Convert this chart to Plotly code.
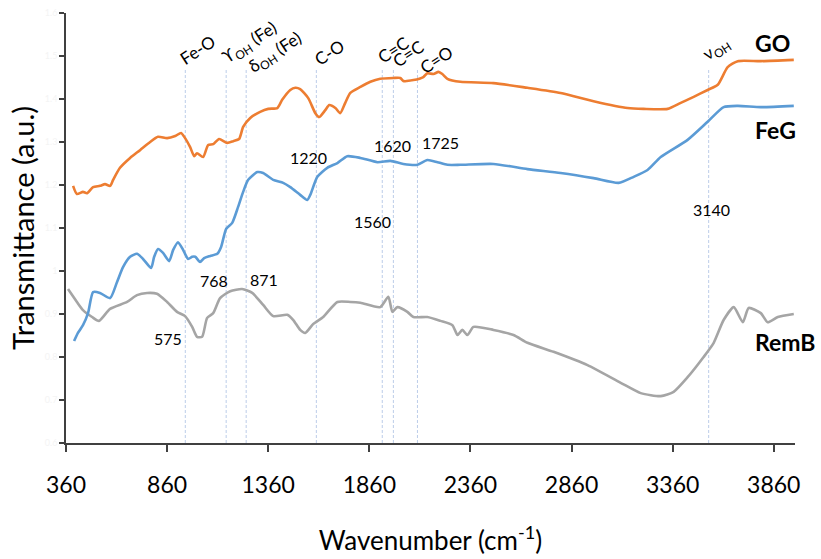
import plotly.graph_objects as go

# ---- data ----
go_wn = [395, 414, 444, 464, 494, 528, 553, 578, 593, 627, 677, 726, 776, 815, 860, 900, 929, 949, 974, 994,
         1008, 1038, 1063, 1088, 1117, 1157, 1187, 1216, 1236, 1271, 1320, 1360, 1405, 1429, 1469, 1494, 1518,
         1558, 1593, 1612, 1642, 1662, 1692, 1716, 1741, 1766, 1816, 1865, 1914, 1979, 2013, 2028, 2078, 2127,
         2147, 2177, 2202, 2221, 2246, 2310, 2474, 2642, 2806, 2969, 3137, 3216, 3335, 3400, 3464, 3533, 3583,
         3632, 3682, 3796, 3959]
go_t = [1.198, 1.179, 1.184, 1.181, 1.195, 1.198, 1.202, 1.198, 1.212, 1.240, 1.263, 1.281, 1.300, 1.312, 1.309,
        1.314, 1.321, 1.309, 1.288, 1.267, 1.274, 1.265, 1.293, 1.295, 1.307, 1.298, 1.302, 1.307, 1.335, 1.356,
        1.370, 1.377, 1.379, 1.398, 1.421, 1.426, 1.423, 1.402, 1.367, 1.358, 1.374, 1.386, 1.379, 1.367, 1.391,
        1.414, 1.428, 1.440, 1.447, 1.449, 1.449, 1.442, 1.444, 1.451, 1.460, 1.458, 1.463, 1.458, 1.447, 1.440,
        1.437, 1.426, 1.414, 1.395, 1.379, 1.377, 1.377, 1.391, 1.405, 1.421, 1.433, 1.474, 1.488, 1.488, 1.491]

feg_wn = [400, 419, 444, 469, 494, 528, 578, 612, 642, 677, 711, 741, 781, 796, 815, 840, 870, 890, 914, 939,
          964, 984, 999, 1023, 1043, 1073, 1108, 1127, 1152, 1182, 1211, 1236, 1261, 1306, 1335, 1385, 1434,
          1469, 1518, 1553, 1568, 1603, 1652, 1702, 1751, 1816, 1900, 1964, 2028, 2098, 2147, 2197, 2246, 2310,
          2474, 2642, 2806, 2969, 3093, 3167, 3236, 3301, 3434, 3533, 3612, 3682, 3796, 3959]
feg_t = [0.837, 0.856, 0.874, 0.902, 0.951, 0.949, 0.937, 0.974, 1.009, 1.033, 1.040, 1.028, 1.007, 1.033, 1.051,
         1.042, 1.023, 1.049, 1.067, 1.049, 1.028, 1.033, 1.033, 1.021, 1.030, 1.035, 1.040, 1.056, 1.098, 1.112,
         1.149, 1.184, 1.212, 1.230, 1.228, 1.212, 1.205, 1.195, 1.177, 1.165, 1.177, 1.219, 1.240, 1.251, 1.267,
         1.263, 1.253, 1.256, 1.249, 1.247, 1.258, 1.253, 1.247, 1.247, 1.249, 1.237, 1.228, 1.216, 1.205, 1.219,
         1.235, 1.265, 1.305, 1.347, 1.381, 1.384, 1.381, 1.384]

remb_wn = [370, 414, 444, 489, 523, 578, 662, 711, 761, 810, 860, 909, 949, 984, 1008, 1033, 1058, 1088, 1122,
           1172, 1231, 1281, 1335, 1385, 1454, 1484, 1518, 1543, 1583, 1632, 1702, 1766, 1816, 1914, 1954, 1974,
           1999, 2048, 2078, 2147, 2212, 2271, 2296, 2320, 2345, 2375, 2474, 2573, 2642, 2771, 2939, 3103, 3202,
           3301, 3365, 3434, 3513, 3563, 3612, 3662, 3707, 3736, 3796, 3830, 3880, 3959]
remb_t = [0.958, 0.928, 0.909, 0.893, 0.884, 0.912, 0.928, 0.944, 0.949, 0.947, 0.928, 0.905, 0.895, 0.870, 0.847,
          0.847, 0.891, 0.902, 0.937, 0.953, 0.958, 0.949, 0.921, 0.895, 0.898, 0.886, 0.863, 0.856, 0.877, 0.893,
          0.928, 0.928, 0.926, 0.916, 0.940, 0.905, 0.916, 0.905, 0.893, 0.893, 0.884, 0.874, 0.851, 0.863, 0.851,
          0.870, 0.863, 0.851, 0.833, 0.812, 0.781, 0.740, 0.716, 0.709, 0.719, 0.753, 0.800, 0.833, 0.886, 0.916,
          0.881, 0.914, 0.902, 0.881, 0.893, 0.900]

# band marker lines (wavenumber positions) and their labels
band_x = [950, 1152, 1251, 1598, 1924, 1979, 2098, 3538]
band_labels = ["Fe-O", "ϒ<sub>OH</sub> (Fe)", "δ<sub>OH</sub> (Fe)", "C-O", "C=C", "C=C", "C=O", "ν<sub>OH</sub>"]
band_label_x = [1013, 1271, 1395, 1662, 1979, 2053, 2192, 3578]
band_label_y = [1.514, 1.530, 1.507, 1.507, 1.514, 1.505, 1.491, 1.516]

num_labels = ["1220", "1620", "1725", "1560", "3140", "768", "871", "575"]
num_x = [1558, 1974, 2211, 1875, 3553, 1093, 1340, 865]
num_y = [1.265, 1.291, 1.298, 1.114, 1.144, 0.979, 0.981, 0.844]

series_names = ["GO", "FeG", "RemB"]
series_label_y = [1.530, 1.328, 0.835]

x_ticks = [360, 860, 1360, 1860, 2360, 2860, 3360, 3860]
y_ticks = [0.6, 0.7, 0.8, 0.9, 1.0, 1.1, 1.2, 1.3, 1.4, 1.5, 1.6]
y_tick_text = ["0.6", "0.7", "0.8", "0.9", "1", "1.1", "1.2", "1.3", "1.4", "1.5", "1.6"]

FONT = "Lato"
colors = {"GO": "#ED7D31", "FeG": "#5B9BD5", "RemB": "#A5A5A5"}

fig = go.Figure()
for name, xs, ys in [("RemB", remb_wn, remb_t), ("FeG", feg_wn, feg_t), ("GO", go_wn, go_t)]:
    fig.add_trace(go.Scatter(x=xs, y=ys, mode="lines", name=name,
                             line=dict(color=colors[name], width=2.6, shape="spline", smoothing=0.6)))

for bx in band_x:
    fig.add_shape(type="line", xref="x", yref="y", x0=bx, x1=bx, y0=0.6, y1=1.472,
                  line=dict(color="#B4C7E7", width=0.9, dash="3px,2px"), layer="below")

for t, x, y in zip(band_labels, band_label_x, band_label_y):
    fig.add_annotation(x=x, y=y, text=t, showarrow=False, textangle=-33,
                       font=dict(family=FONT, size=17, color="#000000"))

for t, x, y in zip(num_labels, num_x, num_y):
    fig.add_annotation(x=x, y=y, text=t, showarrow=False,
                       font=dict(family=FONT, size=16, color="#000000"))

for t, y in zip(series_names, series_label_y):
    fig.add_annotation(x=3756, y=y, text="<b>" + t + "</b>", showarrow=False, xanchor="left",
                       font=dict(family=FONT, size=23, color="#000000"))

fig.update_layout(
    width=821, height=559,
    margin=dict(l=66, r=26, t=13, b=116),
    paper_bgcolor="white", plot_bgcolor="white",
    showlegend=False,
    font=dict(family=FONT, color="#000000"),
)
fig.update_xaxes(range=[360, 3965], tickvals=x_ticks, ticks="outside", ticklen=7, tickwidth=1.5,
                 tickcolor="#404040", showline=True, linecolor="#404040", linewidth=1.5,
                 showgrid=False, zeroline=False, ticklabelstandoff=14, automargin=False,
                 tickfont=dict(family=FONT, size=23, color="#000000"),
                 title=dict(text="Wavenumber (cm<sup>-1</sup>)", font=dict(family=FONT, size=26), standoff=34))
fig.update_yaxes(range=[0.6, 1.6], tickvals=y_ticks, ticktext=y_tick_text, ticks="outside", ticklen=5,
                 tickwidth=1.5, tickcolor="#404040", showline=True, linecolor="#404040", linewidth=1.5,
                 showgrid=False, zeroline=False, automargin=False,
                 tickfont=dict(family=FONT, size=9, color="#F4F4F4"),
                 title=dict(text="Transmittance (a.u.)", font=dict(family=FONT, size=29), standoff=2))

fig.write_html("out.html")
